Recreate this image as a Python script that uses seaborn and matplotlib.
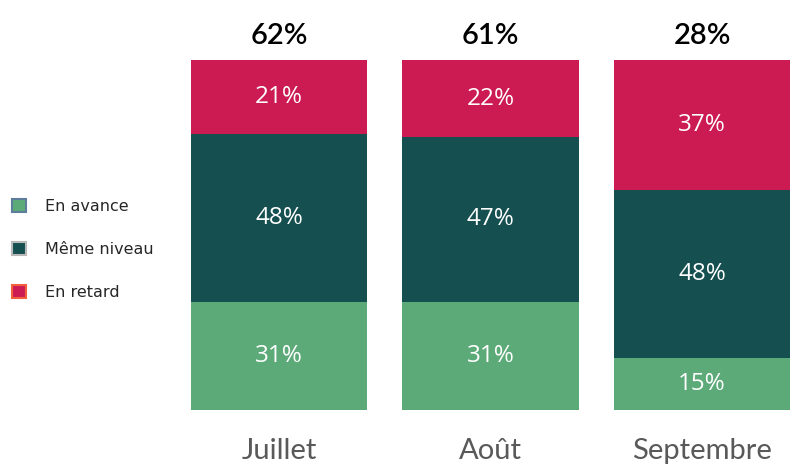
import matplotlib
matplotlib.use("Agg")
import matplotlib.pyplot as plt
from matplotlib.patches import Patch
import numpy as np
import pandas as pd
import seaborn as sns

months = ["Juillet", "Août", "Septembre"]
en_avance = [31, 31, 15]
meme_niveau = [48, 47, 48]
en_retard = [21, 22, 37]
top_labels = ["62%", "61%", "28%"]

c_avance = "#5BAA78"
c_meme = "#154F50"
c_retard = "#CC1A53"

sns.set_theme(style="white")
plt.rcParams["font.family"] = ["Lato", "DejaVu Sans"]

df = pd.DataFrame({"mois": months, "avance": en_avance,
                   "meme": meme_niveau, "retard": en_retard})
df["cum_meme"] = df["avance"] + df["meme"]
df["cum_retard"] = df["cum_meme"] + df["retard"]

fig = plt.figure(figsize=(7.92, 4.71), dpi=100)
ax = fig.add_axes([0.241, 0.1295, 0.757, 0.7431])

w = 0.835
sns.barplot(data=df, x="mois", y="cum_retard", color=c_retard, width=w,
            saturation=1, ax=ax, linewidth=0)
sns.barplot(data=df, x="mois", y="cum_meme", color=c_meme, width=w,
            saturation=1, ax=ax, linewidth=0)
sns.barplot(data=df, x="mois", y="avance", color=c_avance, width=w,
            saturation=1, ax=ax, linewidth=0)

# segment labels
for i, row in df.iterrows():
    for lo, val in [(0, row["avance"]), (row["avance"], row["meme"]),
                    (row["cum_meme"], row["retard"])]:
        ax.text(i, lo + val / 2, f"{val}%", ha="center", va="center",
                color="white", fontsize=17.5, family=["Open Sans", "DejaVu Sans"])
    ax.annotate(top_labels[i], (i, row["cum_retard"]), xytext=(0, 17),
                textcoords="offset points", ha="center", va="center",
                fontsize=21, color="black", fontweight="semibold")

ax.set_xlim(-w / 2, 2 + w / 2)
ax.set_ylim(0, 100)
ax.set_xlabel("")
ax.set_ylabel("")
ax.set_yticks([])
ax.tick_params(axis="x", length=0, pad=20, labelsize=21)
for lab in ax.get_xticklabels():
    lab.set_color("#595959")
    lab.set_fontweight("normal")
sns.despine(ax=ax, left=True, bottom=True)

handles = [
    Patch(facecolor=c_avance, edgecolor="#5E7D9A", linewidth=1.5, label="En avance"),
    Patch(facecolor=c_meme, edgecolor="#B8B8B8", linewidth=1.5, label="Même niveau"),
    Patch(facecolor=c_retard, edgecolor="#F0603C", linewidth=1.5, label="En retard"),
]
fig.legend(handles=handles, loc="center left", bbox_to_anchor=(0.015, 0.47),
           frameon=False, handlelength=0.9, handleheight=0.9, handletextpad=1.2,
           labelspacing=1.75, borderpad=0, borderaxespad=0,
           prop={"family": "DejaVu Sans", "size": 11.5})

fig.savefig("out.png", dpi=100)
